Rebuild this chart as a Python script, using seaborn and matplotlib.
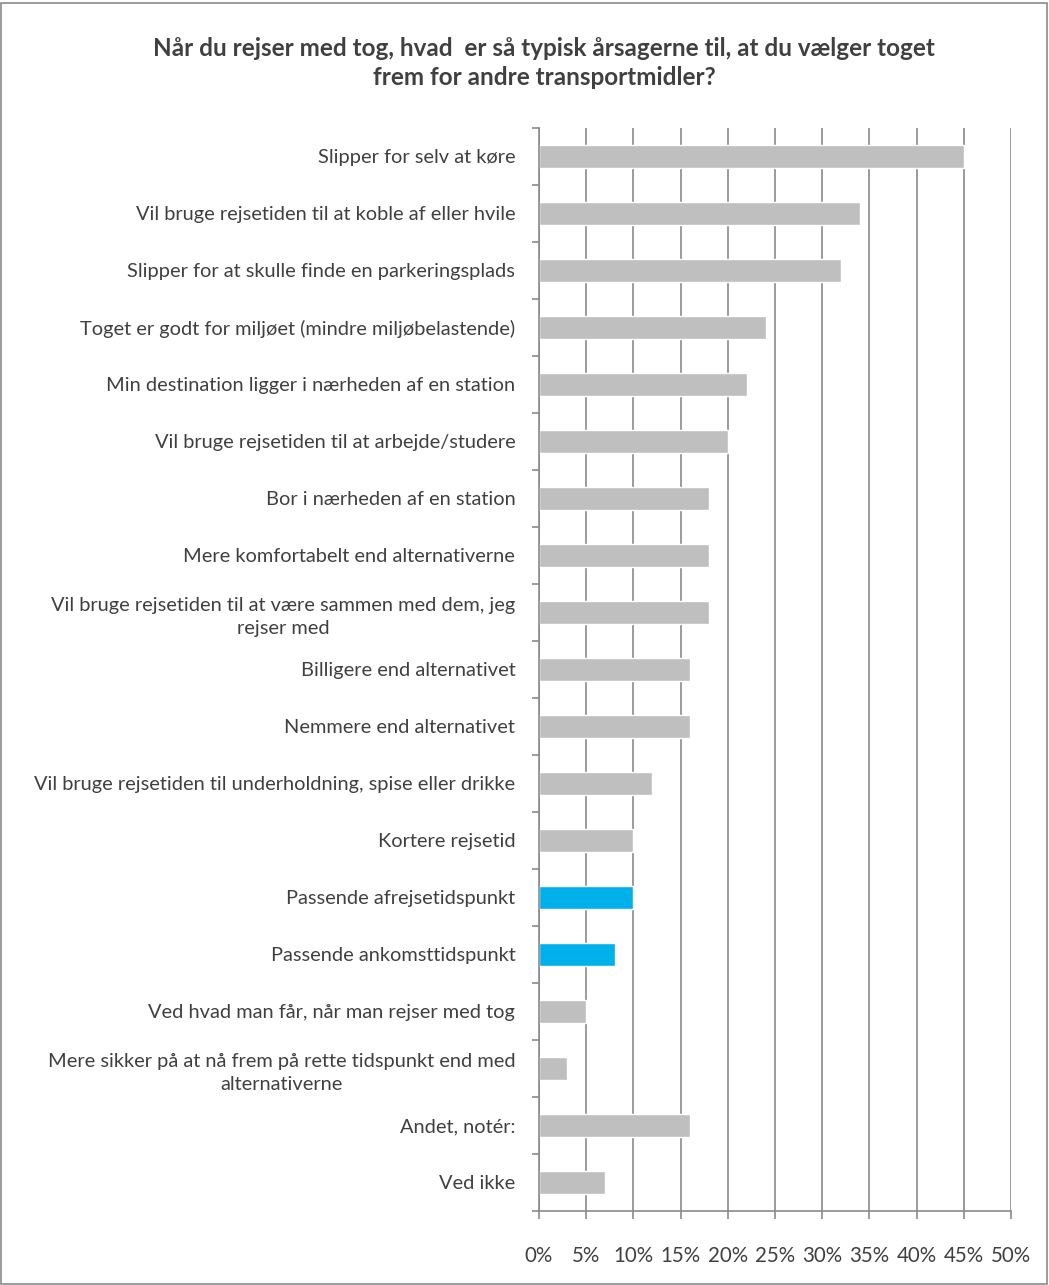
import matplotlib
matplotlib.use('Agg')
import matplotlib.pyplot as plt
import seaborn as sns
import pandas as pd
from matplotlib.patches import Rectangle
from matplotlib.ticker import FuncFormatter, MultipleLocator

# Data (share of respondents, %)
reasons = [
    'Slipper for selv at køre',
    'Vil bruge rejsetiden til at koble af eller hvile',
    'Slipper for at skulle finde en parkeringsplads',
    'Toget er godt for miljøet (mindre miljøbelastende)',
    'Min destination ligger i nærheden af en station',
    'Vil bruge rejsetiden til at arbejde/studere',
    'Bor i nærheden af en station',
    'Mere komfortabelt end alternativerne',
    'Vil bruge rejsetiden til at være sammen med dem, jeg\nrejser med',
    'Billigere end alternativet',
    'Nemmere end alternativet',
    'Vil bruge rejsetiden til underholdning, spise eller drikke',
    'Kortere rejsetid',
    'Passende afrejsetidspunkt',
    'Passende ankomsttidspunkt',
    'Ved hvad man får, når man rejser med tog',
    'Mere sikker på at nå frem på rette tidspunkt end med\nalternativerne',
    'Andet, notér:',
    'Ved ikke',
]
shares = [45, 34, 32, 24, 22, 20, 18, 18, 18, 16, 16, 12, 10, 10, 8, 5, 3, 16, 7]
highlighted = ['Passende afrejsetidspunkt', 'Passende ankomsttidspunkt']

df = pd.DataFrame({'reason': reasons, 'share': shares})
colors = ['#00B0EA' if r in highlighted else '#BFBFBF' for r in reasons]

sns.set_style('white')
plt.rcParams['font.family'] = ['Lato', 'DejaVu Sans']

fig = plt.figure(figsize=(10.49, 12.85), dpi=100)
ax = fig.add_axes([0.5138, 0.0576, 0.45, 0.8428])

sns.barplot(data=df, x='share', y='reason', hue='reason', palette=colors,
            legend=False, width=0.4, ax=ax, orient='h', saturation=1)

grid_col = '#8A8A8A'
ax.set_xlim(0, 50)
ax.xaxis.set_major_locator(MultipleLocator(5))
ax.xaxis.set_major_formatter(FuncFormatter(lambda v, p: f'{v:.0f}%'))
ax.grid(axis='x', color=grid_col, linewidth=1.2)
ax.set_axisbelow(True)
ax.set_ylim(len(reasons) - 0.5, -0.5)

# category boundary ticks on the left axis
ax.set_yticks([i + 0.5 for i in range(-1, len(reasons))], minor=True)
ax.tick_params(axis='y', which='major', length=0, pad=17, labelsize=14.4, labelcolor='#404040')
ax.tick_params(axis='y', which='minor', length=5, color=grid_col, width=1.2, direction='out', left=True)
ax.tick_params(axis='x', length=6, color=grid_col, width=1.2, pad=19, labelsize=14.8,
               labelcolor='#404040', bottom=True)
for lbl in ax.get_yticklabels():
    lbl.set_multialignment('center')
    lbl.set_linespacing(1.45)

for s in ['top', 'right']:
    ax.spines[s].set_visible(False)
for s in ['left', 'bottom']:
    ax.spines[s].set_color(grid_col)
    ax.spines[s].set_linewidth(1.2)

ax.set_xlabel('')
ax.set_ylabel('')

fig.text(0.519, 0.951, 'Når du rejser med tog, hvad  er så typisk årsagerne til, at du vælger toget\nfrem for andre transportmidler?',
         ha='center', va='center', fontsize=17.5, fontweight='bold', color='#404040', linespacing=1.3)

fig.patches.append(Rectangle((0.001, 0.001), 0.997, 0.997, transform=fig.transFigure,
                             fill=False, edgecolor=grid_col, linewidth=1.2))

fig.savefig('out.png', dpi=100)
